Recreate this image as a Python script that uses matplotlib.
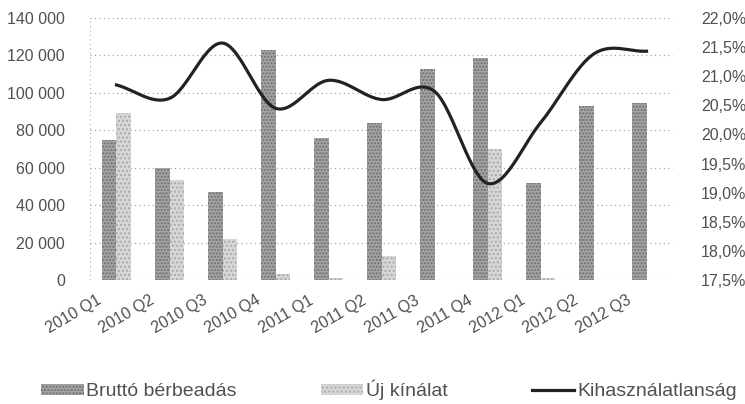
import numpy as np
import matplotlib.pyplot as plt
import matplotlib.transforms as mtransforms

plt.rcParams['font.family'] = ['Liberation Sans', 'DejaVu Sans']

# adatok
negyedevek = ['2010 Q1', '2010 Q2', '2010 Q3', '2010 Q4', '2011 Q1', '2011 Q2',
              '2011 Q3', '2011 Q4', '2012 Q1', '2012 Q2', '2012 Q3']
brutto = [75000, 60000, 47000, 123000, 76000, 84000, 113000, 118500, 52000, 93000, 94500]
uj_kinalat = [89000, 53500, 22000, 3000, 1000, 13000, 0, 70000, 1000, 0, 0]
kihasznalatlansag = [20.85, 20.62, 21.57, 20.45, 20.93, 20.6, 20.74, 19.16, 20.2, 21.38, 21.43]


# simított vonal (Catmull-Rom, mint az Excel "simított vonal")
def simitas(xs, ys, n=30):
    xs = np.asarray(xs, float)
    ys = np.asarray(ys, float)
    px = np.concatenate([[2 * xs[0] - xs[1]], xs, [2 * xs[-1] - xs[-2]]])
    py = np.concatenate([[2 * ys[0] - ys[1]], ys, [2 * ys[-1] - ys[-2]]])
    out_x, out_y = [], []
    t = np.linspace(0, 1, n)
    for i in range(1, len(px) - 2):
        for p, o in ((px, out_x), (py, out_y)):
            p0, p1, p2, p3 = p[i - 1], p[i], p[i + 1], p[i + 2]
            o.extend(0.5 * (2 * p1 + (-p0 + p2) * t + (2 * p0 - 5 * p1 + 4 * p2 - p3) * t ** 2
                            + (-p0 + 3 * p1 - 3 * p2 + p3) * t ** 3))
    return out_x, out_y


szoveg = '#505050'
fig = plt.figure(figsize=(7.45, 4.04), dpi=100)
ax = fig.add_axes([0.1208, 0.3069, 0.7826, 0.6485])
ax2 = ax.twinx()

x = np.arange(len(negyedevek))
w = 0.28
ax.bar(x - w / 2, brutto, w, color='#a3a3a3', edgecolor='#6e6e6e', hatch='.....', linewidth=0,
       label='Bruttó bérbeadás', zorder=2)
ax.bar(x + w / 2, uj_kinalat, w, color='#d6d6d6', edgecolor='#aaaaaa', hatch='....', linewidth=0,
       label='Új kínálat', zorder=2)

sx, sy = simitas(x, kihasznalatlansag)
ax2.plot(sx, sy, color='#222222', linewidth=2.3, label='Kihasználatlanság')

ax.set_xlim(-0.5, 10.5)
ax.set_ylim(0, 140000)
ax.set_yticks(range(0, 140001, 20000))
ax.set_yticklabels([f'{v:,}'.replace(',', ' ') for v in range(0, 140001, 20000)])
ax2.set_ylim(17.5, 22.0)
ticks2 = np.arange(17.5, 22.01, 0.5)
ax2.set_yticks(ticks2)
ax2.set_yticklabels([f'{v:.1f}%'.replace('.', ',') for v in ticks2])

ax.grid(axis='y', linestyle=(0, (1, 3)), color='#999999', linewidth=0.8, zorder=0)
for a in (ax, ax2):
    for s in a.spines.values():
        s.set_visible(False)
    a.tick_params(length=0, labelsize=11.5, colors=szoveg)
ax.tick_params(axis='y', pad=18)
ax2.tick_params(axis='y', pad=20)
ax.axvline(-0.5, color='#aaaaaa', linestyle=(0, (1, 3)), linewidth=0.8)

# x feliratok: a tick_params után, különben visszaáll az eltolás
ax.set_xticks(x)
ax.set_xticklabels(negyedevek, rotation=30, ha='right', va='top', rotation_mode='anchor')
eltolas = mtransforms.ScaledTranslation(-0.2, -0.08, fig.dpi_scale_trans)
for tick in ax.xaxis.get_major_ticks():
    tick.label1.set_transform(tick.label1.get_transform() + eltolas)

h1, l1 = ax.get_legend_handles_labels()
h2, l2 = ax2.get_legend_handles_labels()
leg = fig.legend(h1 + h2, l1 + l2, loc='center', bbox_to_anchor=(0.522, 0.035), ncol=3,
                 frameon=False, fontsize=14, columnspacing=4.3, handlelength=2.2,
                 handletextpad=0.15, handleheight=0.5)
for t in leg.get_texts():
    t.set_color(szoveg)

fig.savefig('out.png', dpi=100)
